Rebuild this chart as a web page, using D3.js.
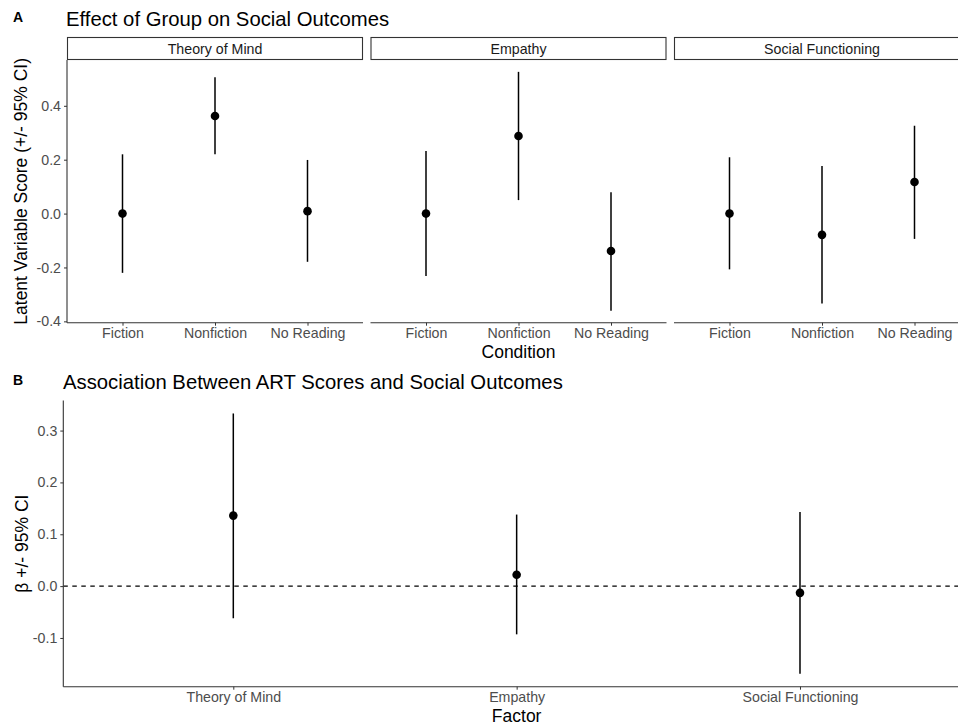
<!DOCTYPE html>
<html><head><meta charset="utf-8">
<script src="https://cdn.jsdelivr.net/npm/d3@7"></script>
<style>body{margin:0;background:#fff}svg{display:block;font-family:"Liberation Sans",Arial,Helvetica,sans-serif}</style>
</head><body><svg id="c" width="958" height="725"></svg>
<script>
// Panel A data
const facets = ["Theory of Mind", "Empathy", "Social Functioning"];
const conditions = ["Fiction", "Nonfiction", "No Reading"];
const estA = [[0.0, 0.362, 0.009], [0.0, 0.288, -0.139], [0.0, -0.079, 0.117]];
const lowA = [[-0.22, 0.22, -0.179], [-0.232, 0.05, -0.361], [-0.207, -0.334, -0.094]];
const highA = [[0.22, 0.506, 0.199], [0.232, 0.526, 0.079], [0.209, 0.177, 0.326]];
const yTicksA = [-0.4, -0.2, 0.0, 0.2, 0.4];
// Panel B data
const factors = ["Theory of Mind", "Empathy", "Social Functioning"];
const estB = [0.136, 0.022, -0.013];
const lowB = [-0.062, -0.093, -0.169];
const highB = [0.333, 0.138, 0.143];
const yTicksB = [-0.1, 0.0, 0.1, 0.2, 0.3];

const svg = d3.select("#c");
const axisCol = "#333", tickTxt = "#4d4d4d";
const FF = "Liberation Sans, Arial, sans-serif";
const tickFS = 14.2, labFS = 17.5, titleFS = 20.3;

function styleAxis(a) {
  a.selectAll(".tick line").attr("stroke", axisCol);
  a.selectAll(".tick text").attr("font-size", tickFS).attr("fill", tickTxt).attr("font-family", FF);
}

// ---------- Panel A ----------
const aTop = 60, aBot = 322.7;
const pw = 296, gap = 7.5, ax0 = 67;
const yA = d3.scaleLinear().domain([-0.405, 0.570]).range([aBot, aTop]);

facets.forEach((f, i) => {
  const x0 = ax0 + i * (pw + gap);
  const x = d3.scalePoint().domain(conditions).range([x0 + pw * 0.6 / 3.2, x0 + pw * 2.6 / 3.2]);
  const g = svg.append("g");
  g.append("rect").attr("x", x0 + 0.5).attr("y", 37.5).attr("width", pw - 1).attr("height", 22)
    .attr("fill", "#fff").attr("stroke", axisCol).attr("stroke-width", 1.1);
  g.append("text").attr("x", x0 + pw / 2).attr("y", 53.5).attr("text-anchor", "middle")
    .attr("font-size", tickFS).attr("fill", "#1a1a1a").text(f);
  const xa = g.append("g").attr("transform", `translate(0,${aBot})`)
    .call(d3.axisBottom(x).tickSize(3).tickPadding(2.5).tickSizeOuter(0));
  xa.select(".domain").attr("d", `M${x0},0H${x0 + pw}`).attr("stroke", axisCol).attr("stroke-width", 1.1);
  styleAxis(xa);
  if (i === 0) {
    const ya = g.append("g").attr("transform", `translate(${x0},0)`)
      .call(d3.axisLeft(yA).tickValues(yTicksA).tickSize(3).tickPadding(3).tickSizeOuter(0));
    ya.select(".domain").attr("d", `M0,${aTop}V${aBot}`).attr("stroke", axisCol).attr("stroke-width", 1.1);
    styleAxis(ya);
    ya.selectAll(".tick text").text(d => d3.format(".1f")(d).replace("−", "-"));
  }
  conditions.forEach((c, j) => {
    g.append("line").attr("x1", x(c)).attr("x2", x(c)).attr("y1", yA(lowA[i][j])).attr("y2", yA(highA[i][j]))
      .attr("stroke", "#000").attr("stroke-width", 1.5);
    g.append("circle").attr("cx", x(c)).attr("cy", yA(estA[i][j])).attr("r", 4.3).attr("fill", "#000");
  });
});
svg.append("text").attr("x", 13).attr("y", 22).attr("font-size", 14).attr("font-weight", "bold").text("A");
svg.append("text").attr("x", 66).attr("y", 26).attr("font-size", titleFS).attr("fill", "#000").text("Effect of Group on Social Outcomes");
svg.append("text").attr("transform", `translate(27,${(aTop + aBot) / 2}) rotate(-90)`).attr("text-anchor", "middle")
  .attr("font-size", labFS).text("Latent Variable Score (+/- 95% CI)");
svg.append("text").attr("x", ax0 + pw + gap + pw / 2).attr("y", 358).attr("text-anchor", "middle")
  .attr("font-size", labFS).text("Condition");

// ---------- Panel B ----------
const bTop = 400.5, bBot = 686.7, bx0 = 63.3, bw = 906.7;
const yB = d3.scaleLinear().domain([-0.194, 0.358]).range([bBot, bTop]);
const xB = d3.scalePoint().domain(factors).range([bx0 + bw * 0.6 / 3.2, bx0 + bw * 2.6 / 3.2]);
const gb = svg.append("g");
gb.append("line").attr("x1", bx0).attr("x2", bx0 + bw).attr("y1", yB(0)).attr("y2", yB(0))
  .attr("stroke", "#000").attr("stroke-width", 1.1).attr("stroke-dasharray", "4.5,4.5");
const xba = gb.append("g").attr("transform", `translate(0,${bBot})`)
  .call(d3.axisBottom(xB).tickSize(3).tickPadding(2.5).tickSizeOuter(0));
xba.select(".domain").attr("d", `M${bx0},0H${bx0 + bw}`).attr("stroke", axisCol).attr("stroke-width", 1.1);
styleAxis(xba);
const yba = gb.append("g").attr("transform", `translate(${bx0},0)`)
  .call(d3.axisLeft(yB).tickValues(yTicksB).tickSize(3).tickPadding(3).tickSizeOuter(0));
yba.select(".domain").attr("d", `M0,${bTop}V${bBot}`).attr("stroke", axisCol).attr("stroke-width", 1.1);
styleAxis(yba);
yba.selectAll(".tick text").text(d => d3.format(".1f")(d).replace("−", "-"));
factors.forEach((f, j) => {
  gb.append("line").attr("x1", xB(f)).attr("x2", xB(f)).attr("y1", yB(lowB[j])).attr("y2", yB(highB[j]))
    .attr("stroke", "#000").attr("stroke-width", 1.5);
  gb.append("circle").attr("cx", xB(f)).attr("cy", yB(estB[j])).attr("r", 4.3).attr("fill", "#000");
});
svg.append("text").attr("x", 13).attr("y", 385).attr("font-size", 14).attr("font-weight", "bold").text("B");
svg.append("text").attr("x", 63).attr("y", 389).attr("font-size", titleFS).attr("fill", "#000").text("Association Between ART Scores and Social Outcomes");
svg.append("text").attr("transform", `translate(28,${(bTop + bBot) / 2}) rotate(-90)`).attr("text-anchor", "middle")
  .attr("font-size", labFS).text("β +/- 95% CI");
svg.append("text").attr("x", bx0 + bw / 2).attr("y", 722).attr("text-anchor", "middle")
  .attr("font-size", labFS).text("Factor");
</script></body></html>
